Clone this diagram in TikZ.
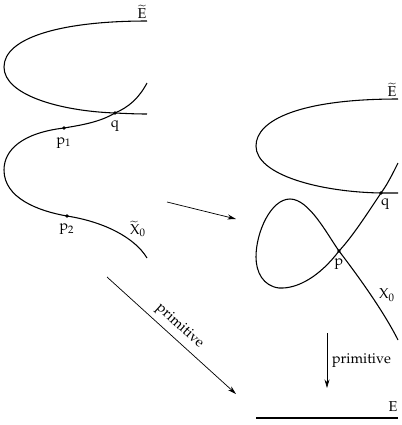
\documentclass[tikz,border=0pt]{standalone}
\usepackage[T1]{fontenc}
\usepackage{mathpazo}
\usetikzlibrary{arrows.meta}
\begin{document}
\begin{tikzpicture}[x=0.7pt,y=-0.7pt,
        curve/.style={line width=0.75pt},
        dot/.style={circle,fill,inner sep=0pt,minimum size=2.6pt},
        map/.style={line width=0.5pt,-{Stealth[length=6pt,width=3.5pt]}}]
    \useasboundingbox (0,0) rectangle (402,425);
    % left picture: the blow-up
    \node[dot] (qL) at (115,113) {};
    \node[dot] (p1) at (64,128) {};
    \node[dot] (p2) at (67,216) {};
    \draw[curve] (147,21) .. controls (60,21) and (4,38) .. (4,67)
        .. controls (4,95) and (60,111) .. (qL.center)
        .. controls (126,113.5) and (136,114) .. (147,114);
    \draw[curve] (147,83) .. controls (139,98) and (129,107) .. (qL.center)
        .. controls (100,122) and (82,125) .. (p1.center)
        .. controls (22,133) and (4,150) .. (4,170)
        .. controls (4,198) and (38,211) .. (p2.center)
        .. controls (105,222) and (135,238) .. (147,258);
    \node[below=2pt] (qLlab) at (qL) {q};
    \node[below=3pt] (p1lab) at (p1) {p$_1$};
    \node[below=2pt] (p2lab) at (p2) {p$_2$};
    \node (EtL) at (142,12) {$\widetilde{\mathrm{E}}$};
    \node (XtL) at (138,229) {$\widetilde{\mathrm{X}}_0$};
    % right picture: the nodal curve
    \node[dot] (qR) at (381,193) {};
    \node[dot] (pR) at (339,251) {};
    \draw[curve] (398,99) .. controls (300,99) and (256,120) .. (256,146)
        .. controls (256,175) and (320,192) .. (qR.center) -- (398,193);
    \draw[curve] (398,163) .. controls (392,175) and (387,185) .. (qR.center)
        .. controls (365,217) and (352,237) .. (pR.center)
        .. controls (320,276) and (298,289) .. (279,288)
        .. controls (263,286) and (256,272) .. (256,257)
        .. controls (256,232) and (271,199) .. (290,199)
        .. controls (309,199) and (327,234) .. (pR.center)
        .. controls (352,268) and (382,308) .. (398,340);
    \node (qRlab) at (385,204) {q};
    \node[below=2pt] (pRlab) at (pR) {p};
    \node (EtR) at (392,90) {$\widetilde{\mathrm{E}}$};
    \node (XR) at (387,295) {X$_0$};
    % the line
    \coordinate (eL) at (256,418);
    \coordinate (eR) at (398,418);
    \draw[curve] (eL) -- (eR);
    \node (EB) at (393,407) {E};
    % maps
    \coordinate (b1) at (167,202);
    \coordinate (b2) at (236,219);
    \coordinate (c1) at (107,277);
    \coordinate (c2) at (236,394);
    \coordinate (d1) at (327,333);
    \coordinate (d2) at (327,388);
    \draw[map] (b1) -- (b2);
    \draw[map] (c1) -- node[midway,above,sloped] {primitive} (c2);
    \draw[map] (d1) -- node[midway,right] {primitive} (d2);
\end{tikzpicture}
\end{document}
